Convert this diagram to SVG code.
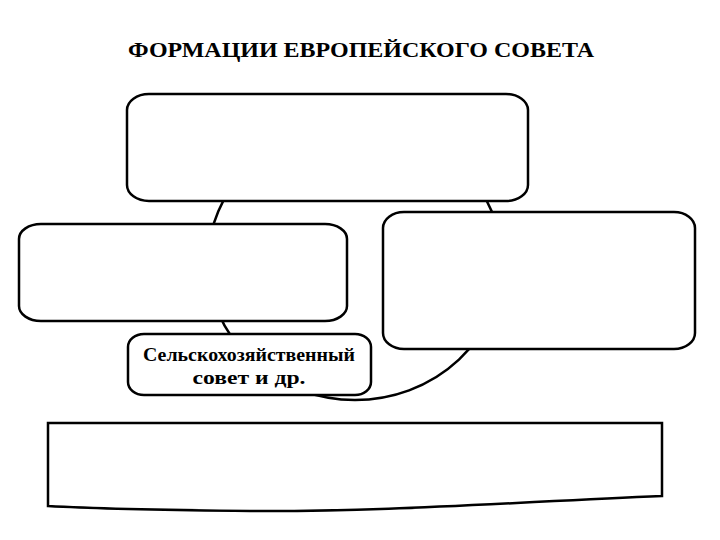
<svg xmlns="http://www.w3.org/2000/svg" width="720" height="540" viewBox="0 0 720 540">
<style>
.box{fill:#fff;stroke:#000;stroke-width:2.5}
.conn{fill:none;stroke:#000;stroke-width:2.5}
.t{font-family:"Liberation Serif","Times New Roman","DejaVu Serif",serif;font-weight:bold;fill:#000}
</style>
<rect width="720" height="540" fill="#fff"/>
<text class="t" x="361" y="57" font-size="21" text-anchor="middle" textLength="466" lengthAdjust="spacingAndGlyphs">ФОРМАЦИИ ЕВРОПЕЙСКОГО СОВЕТА</text>
<g id="connectors">
<ellipse class="conn" cx="355" cy="262" rx="147" ry="138"/>
</g>
<g id="top-box">
<rect class="box" x="127" y="94" width="401" height="107" rx="22" ry="16"/>
</g>
<g id="left-box">
<rect class="box" x="19" y="224" width="328" height="97" rx="22" ry="15"/>
</g>
<g id="right-box">
<rect class="box" x="383" y="212" width="312" height="137" rx="21" ry="16"/>
</g>
<g id="agri-box">
<rect class="box" x="128" y="334" width="243" height="61" rx="16" ry="13"/>
<text class="t" x="249" y="361" font-size="18" text-anchor="middle" textLength="212" lengthAdjust="spacingAndGlyphs">Сельскохозяйственный</text>
<text class="t" x="249" y="384" font-size="18" text-anchor="middle" textLength="113" lengthAdjust="spacingAndGlyphs">совет и др.</text>
</g>
<g id="bottom-box">
<path class="box" d="M48,423 H662 V496 C500,503 380,512 250,511 C160,510 100,509 48,506 Z"/>
</g>
</svg>
